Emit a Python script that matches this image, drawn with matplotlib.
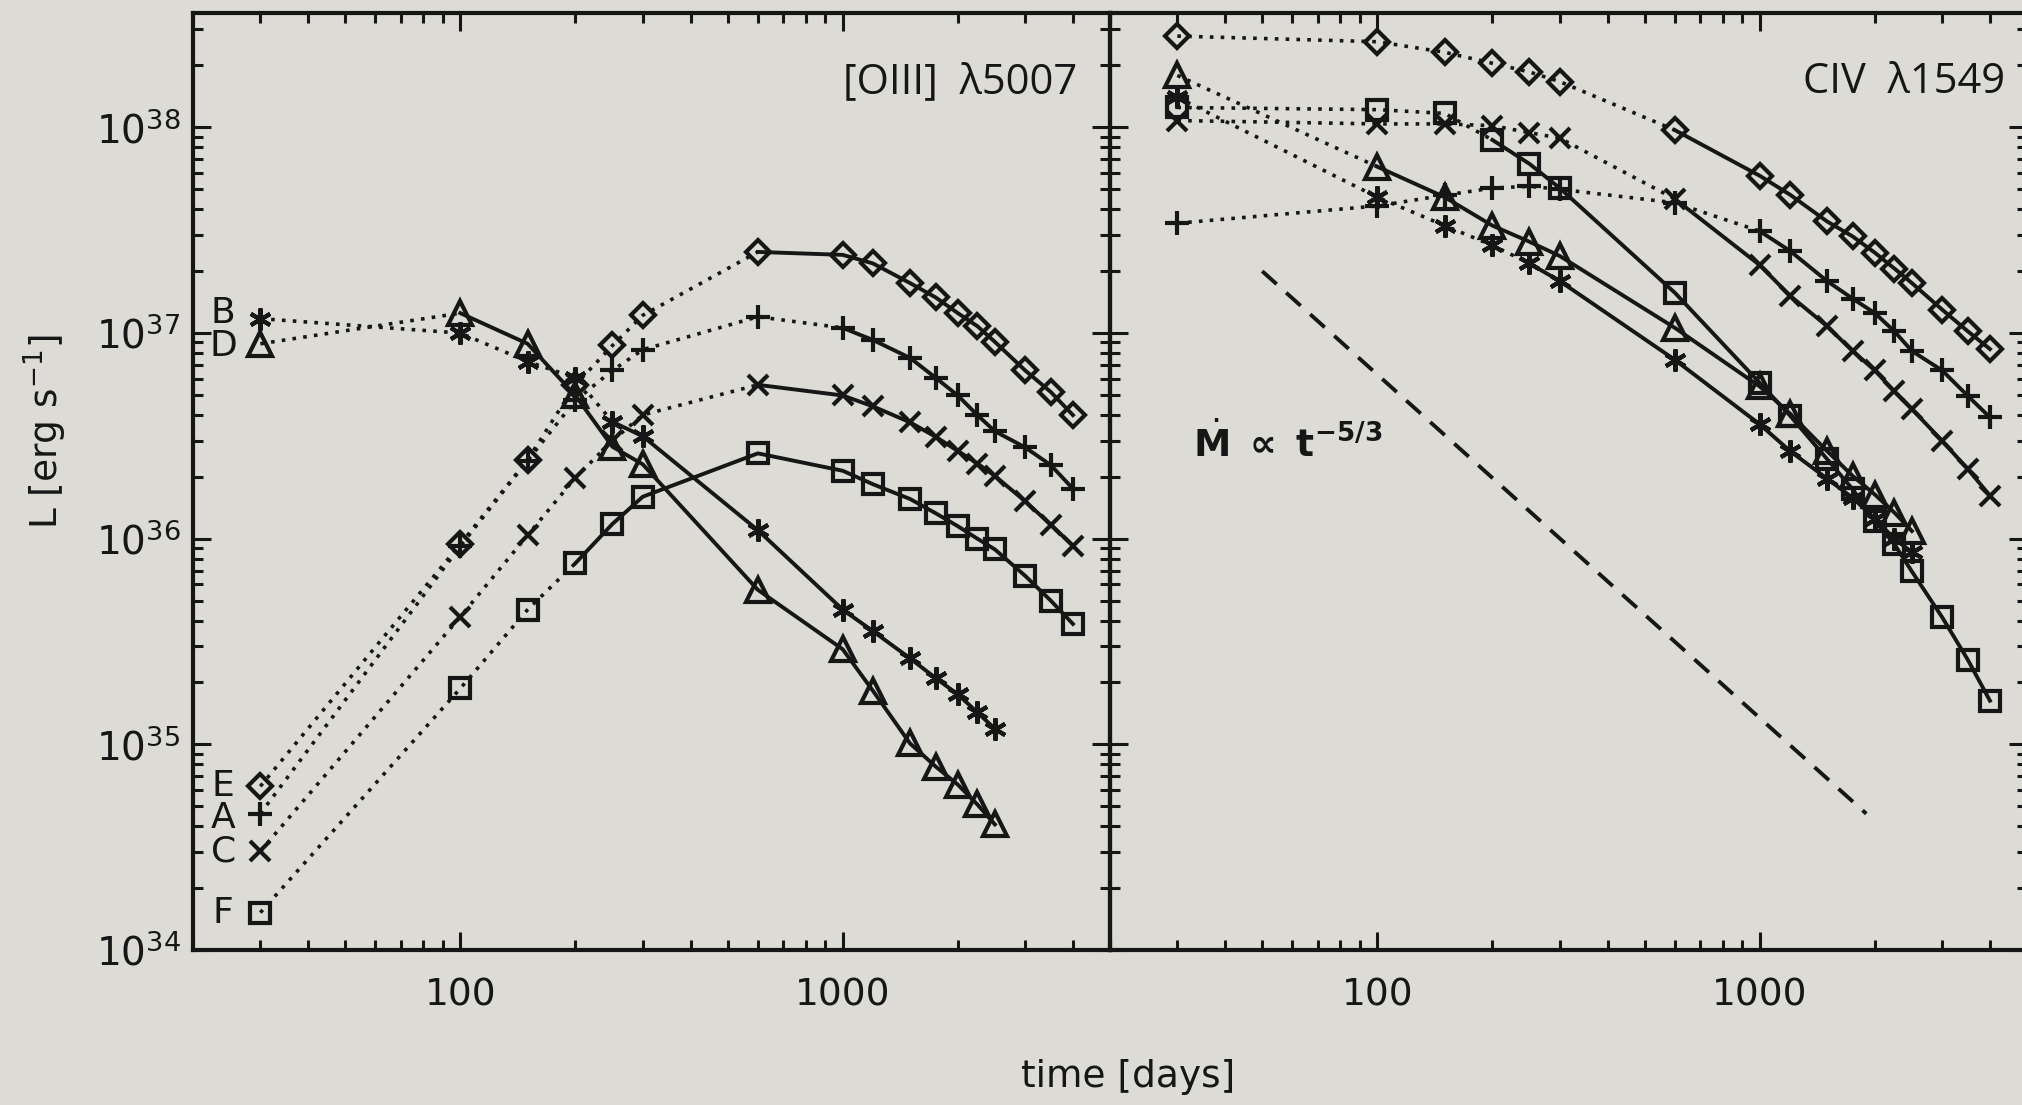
import numpy as np
import matplotlib
matplotlib.use("Agg")
import matplotlib.pyplot as plt

# ---------------- data ----------------
t_long = [30, 100, 150, 200, 250, 300, 600, 1000, 1200, 1500, 1750, 2000, 2250, 2500, 3000, 3500, 4000]
t_short = [30, 100, 150, 200, 250, 300, 600, 1000, 1200, 1500, 1750, 2000, 2250, 2500]

# [OIII] 5007 (left panel)
E_oiii = [6.25e34, 9.4e35, 2.42e36, 5.6e36, 8.7e36, 1.22e37, 2.48e37, 2.4e37, 2.18e37, 1.75e37, 1.49e37, 1.25e37, 1.08e37, 9.06e36, 6.58e36, 5.17e36, 3.99e36]
A_oiii = [4.6e34, 9.2e35, 2.4e36, 4.7e36, 6.58e36, 8.3e36, 1.2e37, 1.06e37, 9.25e36, 7.57e36, 6.06e36, 4.97e36, 3.99e36, 3.33e36, 2.78e36, 2.28e36, 1.75e36]
C_oiii = [3.02e34, 4.17e35, 1.04e36, 1.98e36, 3.0e36, 4.0e36, 5.6e36, 4.97e36, 4.4e36, 3.68e36, 3.13e36, 2.67e36, 2.32e36, 2.02e36, 1.52e36, 1.17e36, 9.25e35]
F_oiii = [1.52e34, 1.87e35, 4.52e35, 7.6e35, 1.18e36, 1.6e36, 2.6e36, 2.14e36, 1.84e36, 1.56e36, 1.33e36, 1.15e36, 1.0e36, 8.87e35, 6.6e35, 5.0e35, 3.85e35]
B_oiii = [1.175e37, 1.0e37, 7.27e36, 6.06e36, 3.7e36, 3.15e36, 1.1e36, 4.52e35, 3.55e35, 2.62e35, 2.1e35, 1.75e35, 1.43e35, 1.19e35]
D_oiii = [8.87e36, 1.25e37, 8.87e36, 4.97e36, 2.8e36, 2.3e36, 5.64e35, 2.9e35, 1.82e35, 1.01e35, 7.8e34, 6.37e34, 5.1e34, 4.08e34]

# CIV 1549 (right panel)
E_civ = [2.78e38, 2.61e38, 2.32e38, 2.05e38, 1.86e38, 1.67e38, 9.7e37, 5.82e37, 4.71e37, 3.49e37, 2.95e37, 2.46e37, 2.06e37, 1.75e37, 1.3e37, 1.02e37, 8.36e36]
A_civ = [3.42e37, 4.15e37, 4.68e37, 5.07e37, 5.17e37, 5.0e37, 4.3e37, 3.13e37, 2.51e37, 1.79e37, 1.47e37, 1.25e37, 1.02e37, 8.18e36, 6.58e36, 4.95e36, 3.89e36]
C_civ = [1.08e38, 1.04e38, 1.04e38, 1.02e38, 9.43e37, 8.87e37, 4.49e37, 2.14e37, 1.52e37, 1.08e37, 8.18e36, 6.58e36, 5.2e36, 4.27e36, 2.99e36, 2.18e36, 1.62e36]
F_civ = [1.25e38, 1.22e38, 1.17e38, 8.69e37, 6.65e37, 5.07e37, 1.57e37, 5.72e36, 3.97e36, 2.44e36, 1.74e36, 1.22e36, 9.4e35, 6.93e35, 4.15e35, 2.58e35, 1.63e35]
B_civ = [1.4e38, 4.58e37, 3.33e37, 2.67e37, 2.18e37, 1.79e37, 7.41e36, 3.6e36, 2.67e36, 1.96e36, 1.58e36, 1.25e36, 1.0e36, 8.6e35]
D_civ = [1.79e38, 6.44e37, 4.58e37, 3.33e37, 2.78e37, 2.37e37, 1.06e37, 5.5e36, 4.06e36, 2.67e36, 2.02e36, 1.64e36, 1.34e36, 1.09e36]

# power-law reference line  Mdot ~ t^-5/3
ref_t = [50, 1900]
ref_L = [2.0e37, 4.6e34]

series_names = ["E", "A", "C", "F", "B", "D"]
solid_from = {"E": 600, "A": 1000, "C": 600, "F": 200, "B": 250, "D": 100}

ytick_vals = [1e34, 1e35, 1e36, 1e37, 1e38]
ytick_labels = [r"$10^{34}$", r"$10^{35}$", r"$10^{36}$", r"$10^{37}$", r"$10^{38}$"]
xtick_vals = [100, 1000]
xtick_labels = ["100", "1000"]

# ---------------- style ----------------
BG = "#dcdbd6"
INK = "#161616"
W, H = 2022, 1105

markers = {
    "E": dict(marker="D", ms=12),
    "A": dict(marker="+", ms=17),
    "C": dict(marker="x", ms=14),
    "F": dict(marker="s", ms=14),
    "B": dict(marker=(6, 2, 0), ms=16),
    "D": dict(marker="^", ms=17),
}

fig = plt.figure(figsize=(W / 100, H / 100), dpi=100, facecolor=BG)

ax_left = 193 / W
ax_w = 917 / W
ax_b = (H - 950) / H
ax_h = 937 / H
ax1 = fig.add_axes([ax_left, ax_b, ax_w, ax_h])
ax2 = fig.add_axes([ax_left + ax_w, ax_b, ax_w, ax_h])


def draw_series(ax, t, L, key):
    t = np.asarray(t, float)
    L = np.asarray(L, float)
    k = int(np.searchsorted(t, solid_from[key]))
    ax.plot(t[: k + 1], L[: k + 1], color=INK, lw=2.6, ls=(0, (1.0, 2.0)),
            dash_capstyle="butt", zorder=2)
    ax.plot(t[k:], L[k:], color=INK, lw=2.8, ls="-", zorder=2)
    m = markers[key]
    ax.plot(t, L, ls="none", marker=m["marker"], ms=m["ms"], mfc="none",
            mec=INK, mew=3.0, zorder=3)


for ax in (ax1, ax2):
    ax.set_facecolor("none")
    ax.set_xscale("log")
    ax.set_yscale("log")
    ax.set_xlim(20, 5000)
    ax.set_ylim(1e34, 3.6e38)
    for s in ax.spines.values():
        s.set_linewidth(3.0)
        s.set_color(INK)
    ax.tick_params(which="both", direction="in", top=True, right=True,
                   color=INK, width=2.2)
    ax.tick_params(which="major", length=13)
    ax.tick_params(which="minor", length=7)
    ax.set_xticks(xtick_vals)
    ax.set_xticklabels(xtick_labels)
    ax.xaxis.set_minor_locator(matplotlib.ticker.LogLocator(base=10, subs=np.arange(2, 10), numticks=20))
    ax.xaxis.set_minor_formatter(matplotlib.ticker.NullFormatter())
    ax.set_yticks(ytick_vals)
    ax.yaxis.set_minor_locator(matplotlib.ticker.LogLocator(base=10, subs=np.arange(2, 10), numticks=20))
    ax.yaxis.set_minor_formatter(matplotlib.ticker.NullFormatter())
    ax.tick_params(axis="x", which="major", pad=20, labelsize=27, labelcolor=INK)
    ax.tick_params(axis="y", which="major", pad=9, labelsize=28, labelcolor=INK)

ax1.set_yticklabels(ytick_labels)
ax2.set_yticklabels([])

left_data = {"E": (t_long, E_oiii), "A": (t_long, A_oiii), "C": (t_long, C_oiii),
             "F": (t_long, F_oiii), "B": (t_short, B_oiii), "D": (t_short, D_oiii)}
right_data = {"E": (t_long, E_civ), "A": (t_long, A_civ), "C": (t_long, C_civ),
              "F": (t_long, F_civ), "B": (t_short, B_civ), "D": (t_short, D_civ)}

for key in series_names:
    draw_series(ax1, *left_data[key], key)
    draw_series(ax2, *right_data[key], key)

# series letters at the start of the left panel
label_offsets = {"E": 1.0, "A": 0.95, "C": 1.0, "F": 1.0, "B": 1.06, "D": 0.98}
for key in series_names:
    t0 = left_data[key][0][0]
    L0 = left_data[key][1][0]
    ax1.text(t0 * 0.8, L0 * label_offsets[key], key, ha="center", va="center",
             fontsize=26, color=INK, family="DejaVu Sans")

# reference power law
ax2.plot(ref_t, ref_L, color=INK, lw=2.8, ls=(0, (5.0, 3.3)), zorder=2)
ax2.text(33, 2.9e36, r"$\dot{\mathbf{M}}\ \mathbf{\propto}\ \mathbf{t}^{\mathbf{-5/3}}$",
         ha="left", va="center", fontsize=27, color=INK)

# panel titles
title_font = ["Open Sans", "DejaVu Sans"]
ax1.text(0.964, 0.926, "[OIII]  λ5007", transform=ax1.transAxes, ha="right", va="center",
         fontsize=30, color=INK, family=title_font)
ax2.text(0.976, 0.926, "CIV  λ1549", transform=ax2.transAxes, ha="right", va="center",
         fontsize=30, color=INK, family=title_font)

# axis labels
fig.text(45 / W, 1 - 432 / H, r"L [erg s$^{-1}$]", rotation=90, ha="center", va="center",
         fontsize=27, color=INK)
fig.text(1128 / W, 1 - 1077 / H, "time [days]", ha="center", va="center",
         fontsize=27, color=INK)

fig.savefig("out.png", dpi=100, facecolor=BG)
